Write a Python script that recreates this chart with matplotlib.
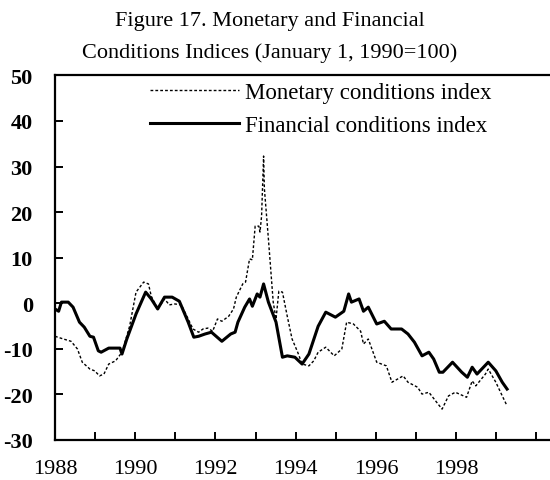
import matplotlib
matplotlib.use("Agg")
import matplotlib.pyplot as plt
from matplotlib.ticker import MultipleLocator

plt.rcParams['font.family'] = ['Liberation Serif', 'DejaVu Serif']
plt.rcParams['axes.unicode_minus'] = False

# Financial conditions index (decimal years, index)
fci_t = [1988.0, 1988.09, 1988.16, 1988.33, 1988.45, 1988.61, 1988.73, 1988.87, 1988.96, 1989.08,
         1989.15, 1989.34, 1989.62, 1989.67, 1989.79, 1990.02, 1990.26, 1990.4, 1990.56, 1990.73,
         1990.92, 1991.1, 1991.32, 1991.46, 1991.58, 1991.74, 1991.9, 1992.16, 1992.38, 1992.49,
         1992.56, 1992.73, 1992.85, 1992.92, 1993.04, 1993.11, 1993.2, 1993.32, 1993.51, 1993.62,
         1993.67, 1993.79, 1993.98, 1994.16, 1994.33, 1994.56, 1994.75, 1994.99, 1995.2, 1995.32,
         1995.39, 1995.58, 1995.69, 1995.81, 1996.02, 1996.21, 1996.38, 1996.64, 1996.8, 1996.96,
         1997.15, 1997.32, 1997.44, 1997.58, 1997.67, 1997.91, 1998.14, 1998.28, 1998.4, 1998.52,
         1998.8, 1998.99, 1999.15, 1999.27]
fci_v = [-1.3, -1.8, 0.2, 0.2, -0.9, -4.2, -5.3, -7.3, -7.5, -10.5,
         -10.8, -9.9, -9.9, -11.2, -7.9, -2.4, 2.4, 0.9, -1.3, 1.3,
         1.3, 0.4, -4.2, -7.5, -7.3, -6.8, -6.4, -8.4, -6.8, -6.4,
         -4.2, -0.9, 0.9, -0.7, 2.0, 1.3, 4.2, 0.2, -4.2, -9.5,
         -11.9, -11.6, -11.9, -13.4, -11.2, -5.1, -2.0, -3.1, -1.8, 2.0,
         0.2, 0.9, -1.8, -0.9, -4.6, -4.0, -5.7, -5.7, -6.8, -8.6,
         -11.6, -10.8, -12.3, -15.2, -15.2, -13.0, -15.2, -16.3, -14.1, -15.6,
         -13.0, -14.9, -17.4, -18.9]

# Monetary conditions index
mci_t = [1988.0, 1988.21, 1988.4, 1988.56, 1988.68, 1988.87, 1988.99, 1989.11, 1989.22, 1989.34,
         1989.51, 1989.67, 1989.86, 1990.02, 1990.21, 1990.33, 1990.4, 1990.56, 1990.73, 1990.85,
         1990.99, 1991.15, 1991.32, 1991.44, 1991.58, 1991.69, 1991.81, 1991.93, 1992.05, 1992.16,
         1992.33, 1992.45, 1992.52, 1992.68, 1992.75, 1992.85, 1992.92, 1992.99, 1993.08, 1993.11,
         1993.15, 1993.2, 1993.22, 1993.32, 1993.44, 1993.51, 1993.58, 1993.67, 1993.79, 1993.91,
         1994.05, 1994.16, 1994.33, 1994.45, 1994.56, 1994.75, 1994.96, 1995.15, 1995.27, 1995.44,
         1995.62, 1995.69, 1995.81, 1996.02, 1996.26, 1996.4, 1996.68, 1996.8, 1997.04, 1997.15,
         1997.32, 1997.55, 1997.65, 1997.81, 1997.98, 1998.26, 1998.4, 1998.49, 1998.73, 1998.8,
         1998.99, 1999.15, 1999.27]
mci_v = [-7.3, -7.9, -8.4, -10.1, -13.0, -14.5, -14.9, -16.0, -15.6, -13.4,
         -12.7, -10.8, -5.1, 2.4, 4.6, 4.2, 1.5, -1.3, 0.9, -0.4,
         -0.2, -0.4, -3.5, -5.7, -6.4, -5.7, -5.5, -6.2, -3.5, -4.0,
         -2.9, -1.3, 1.3, 4.2, 4.6, 9.7, 9.5, 16.9, 16.9, 15.6,
         19.1, 32.3, 25.1, 14.1, 0.2, -3.5, 2.6, 2.4, -2.9, -7.9,
         -10.8, -13.4, -13.8, -12.7, -10.8, -9.7, -11.6, -10.1, -4.2, -4.6,
         -6.2, -9.0, -7.9, -13.0, -13.8, -17.4, -16.0, -17.4, -18.5, -20.0,
         -19.6, -22.2, -23.3, -20.4, -19.6, -20.7, -17.1, -18.2, -15.6, -14.5,
         -17.4, -20.4, -22.6]

year_labels = ['1988', '1990', '1992', '1994', '1996', '1998']

fig = plt.figure(figsize=(5.5, 4.81), dpi=100)
ax = fig.add_axes([0.1, 0.084, 0.9, 0.757])

ax.plot(mci_t, mci_v, color='black', lw=1.0, ls=(0, (2, 1.5)),
        label='Monetary conditions index')
ax.plot(fci_t, fci_v, color='black', lw=2.2, label='Financial conditions index')

# axis runs past the right edge of the picture (right spine cut off)
ax.set_xlim(1988, 2000.34)
ax.set_ylim(-30, 50)
ax.yaxis.set_major_locator(MultipleLocator(10))
ax.set_xticks([int(y) for y in year_labels])
ax.set_xticklabels(year_labels)
ax.xaxis.set_minor_locator(MultipleLocator(1))

ax.spines['right'].set_visible(False)
for s in ['left', 'bottom', 'top']:
    ax.spines[s].set_linewidth(1.6)

ax.tick_params(axis='both', which='both', direction='in', length=6, width=1.4)
ax.tick_params(axis='x', which='major', labelsize=16, pad=14)
ax.tick_params(axis='y', labelsize=16, pad=16)
for lab in ax.get_yticklabels():
    lab.set_fontweight('bold')

fig.text(0.49, 0.975, 'Figure 17. Monetary and Financial', ha='center', va='top', fontsize=16)
fig.text(0.49, 0.91, 'Conditions Indices (January 1, 1990=100)', ha='center', va='top', fontsize=16)

ax.legend(loc='upper left', bbox_to_anchor=(0.272, 0.827), bbox_transform=fig.transFigure,
          frameon=False, fontsize=16.5, handlelength=3.9, handletextpad=0.25,
          labelspacing=0.5, borderpad=0, borderaxespad=0)

fig.savefig('out.png', dpi=100)
